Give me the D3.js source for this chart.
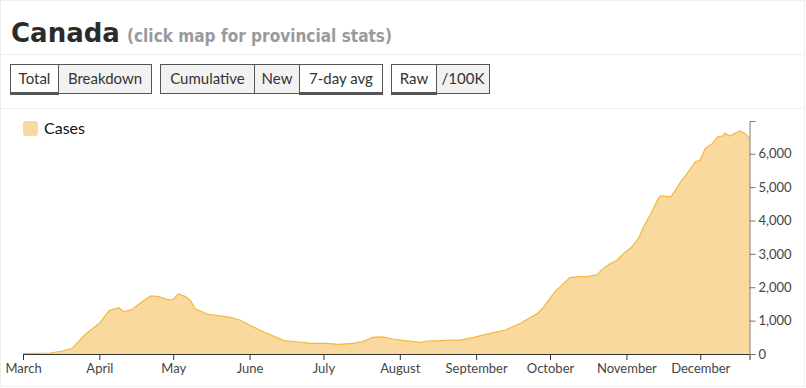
<!DOCTYPE html>
<html>
<head>
<meta charset="utf-8">
<script src="https://cdn.jsdelivr.net/npm/d3@7"></script>
<style>
  body { margin: 0; background: #fff; }
  svg { display: block; }
  .btn-label { font-family: Lato, sans-serif; font-size: 15px; fill: #333; }
  .tick text { font-family: Lato, sans-serif; font-size: 13px; fill: #444; }
</style>
</head>
<body>
<div id="chart"></div>
<script>
// data: 7-day average of new cases, Canada 2020
const dates = [
  "2020-03-01","2020-03-12","2020-03-17","2020-03-21","2020-03-26","2020-04-01","2020-04-05","2020-04-08",
  "2020-04-09","2020-04-11","2020-04-14","2020-04-19","2020-04-22","2020-04-25","2020-04-29","2020-05-01",
  "2020-05-03","2020-05-06","2020-05-08","2020-05-10","2020-05-12","2020-05-15","2020-05-20","2020-05-24",
  "2020-05-28","2020-06-01","2020-06-05","2020-06-09","2020-06-15","2020-06-21","2020-06-26","2020-07-02",
  "2020-07-07","2020-07-13","2020-07-17","2020-07-21","2020-07-25","2020-07-29","2020-08-03","2020-08-07",
  "2020-08-09","2020-08-12","2020-08-17","2020-08-22","2020-08-25","2020-08-31","2020-09-08","2020-09-13",
  "2020-09-19","2020-09-26","2020-09-28","2020-09-30","2020-10-03","2020-10-06","2020-10-09","2020-10-13",
  "2020-10-16","2020-10-20","2020-10-22","2020-10-25","2020-10-28","2020-10-31","2020-11-03","2020-11-06",
  "2020-11-08","2020-11-11","2020-11-14","2020-11-15","2020-11-19","2020-11-21","2020-11-23","2020-11-25",
  "2020-11-29","2020-12-01","2020-12-03","2020-12-06","2020-12-08","2020-12-10","2020-12-11","2020-12-13",
  "2020-12-15","2020-12-17","2020-12-19","2020-12-21"
];
const cases = [
  10, 30, 90, 170, 570, 920, 1300, 1370,
  1380, 1270, 1320, 1600, 1740, 1720, 1620, 1640,
  1800, 1720, 1600, 1350, 1290, 1190, 1140, 1100,
  1020, 870, 720, 590, 400, 360, 320, 320,
  290, 320, 370, 500, 510, 450, 400, 370,
  340, 390, 400, 420, 410, 500, 640, 720,
  920, 1220, 1370, 1570, 1870, 2070, 2290, 2320,
  2320, 2370, 2520, 2690, 2800, 3020, 3190, 3470,
  3810, 4210, 4660, 4740, 4710, 4910, 5160, 5340,
  5760, 5810, 6160, 6310, 6510, 6530, 6610, 6530,
  6610, 6680, 6610, 6460
];
const yTicks = [0, 1000, 2000, 3000, 4000, 5000, 6000];
const seriesName = "Cases";

const btnGroups = [
  ["Total", "Breakdown"],
  ["Cumulative", "New", "7-day avg"],
  ["Raw", "/100K"]
];
const btnWidths = [
  [48, 93],
  [94, 45, 83],
  [45, 53]
];
const activeBtns = ["Total", "7-day avg", "Raw"];

const W = 806, H = 388;
const parse = d3.timeParse("%Y-%m-%d");
const data = dates.map((d, i) => ({ date: parse(d), value: cases[i] }));

const svg = d3.select("#chart").append("svg")
  .attr("width", W).attr("height", H);

// card border
svg.append("rect")
  .attr("x", 0.5).attr("y", 0.5).attr("width", W - 2).attr("height", H - 2)
  .attr("fill", "none").attr("stroke", "#eeeeee");

// title
svg.append("text")
  .attr("x", 11).attr("y", 42)
  .style("font-family", "'DejaVu Sans', sans-serif")
  .style("font-size", "26px").style("font-weight", "bold").attr("fill", "#2b2b2b")
  .text("Canada");
svg.append("text")
  .attr("x", 127).attr("y", 42)
  .attr("textLength", 265).attr("lengthAdjust", "spacingAndGlyphs")
  .style("font-family", "'DejaVu Sans', sans-serif")
  .style("font-size", "18px").style("font-weight", "bold").attr("fill", "#9a9a9a")
  .text("(click map for provincial stats)");

svg.append("line").attr("x1", 1).attr("x2", W - 1).attr("y1", 54.5).attr("y2", 54.5)
  .attr("stroke", "#eeeeee");
svg.append("line").attr("x1", 1).attr("x2", W - 1).attr("y1", 108.5).attr("y2", 108.5)
  .attr("stroke", "#eeeeee");

// buttons
let bx = 10;
btnGroups.forEach((grp, gi) => {
  grp.forEach((label, bi) => {
    const w = btnWidths[gi][bi];
    const active = activeBtns.includes(label);
    const g = svg.append("g").attr("transform", `translate(${bx},64)`);
    g.append("rect")
      .attr("x", 0.5).attr("y", 0.5).attr("width", w).attr("height", 29)
      .attr("fill", active ? "#ffffff" : "#f2f2f2")
      .attr("stroke", "#555").attr("stroke-width", 1);
    if (active) {
      g.append("rect").attr("x", 0).attr("y", 28).attr("width", w + 1).attr("height", 3)
        .attr("fill", "#555");
    }
    g.append("text").attr("class", "btn-label")
      .attr("x", w / 2 + 0.5).attr("y", 20).attr("text-anchor", "middle")
      .text(label);
    bx += w;
  });
  bx += 9;
});

// chart
const margin = { left: 23, right: W - 749.5, top: 121, bottom: H - 354 };
const x = d3.scaleTime()
  .domain([parse("2020-03-01"), parse("2020-12-21")])
  .range([margin.left, W - margin.right]);
const y = d3.scaleLinear()
  .domain([0, d3.max(cases) * 1.045])
  .range([H - margin.bottom, margin.top]);

const area = d3.area()
  .x(d => x(d.date)).y0(y(0)).y1(d => y(d.value));
const line = d3.line()
  .x(d => x(d.date)).y(d => y(d.value));

svg.append("path").datum(data)
  .attr("d", area).attr("fill", "#f9d99d");
svg.append("path").datum(data)
  .attr("d", line).attr("fill", "none")
  .attr("stroke", "#f4b73f").attr("stroke-width", 1.2);

const xAxis = svg.append("g")
  .attr("transform", `translate(0,${H - margin.bottom})`)
  .call(d3.axisBottom(x).ticks(d3.timeMonth.every(1)).tickFormat(d3.timeFormat("%B")).tickSize(6));
xAxis.selectAll("path, line").attr("stroke", "#333");
xAxis.selectAll("text").attr("y", 8).attr("dy", "0.85em");

const yAxis = svg.append("g")
  .attr("transform", `translate(${W - margin.right},0)`)
  .call(d3.axisRight(y).tickValues(yTicks).tickFormat(d3.format(",")).tickSize(6));
yAxis.selectAll("path, line").attr("stroke", "#777");
yAxis.selectAll("text").attr("x", 9);

// legend
svg.append("rect")
  .attr("x", 23).attr("y", 121).attr("width", 15).attr("height", 15).attr("rx", 3)
  .attr("fill", "#f9d99d");
svg.append("text")
  .attr("x", 44).attr("y", 134)
  .style("font-family", "Lato, sans-serif").style("font-size", "16px").attr("fill", "#111")
  .text(seriesName);
</script>
</body>
</html>
